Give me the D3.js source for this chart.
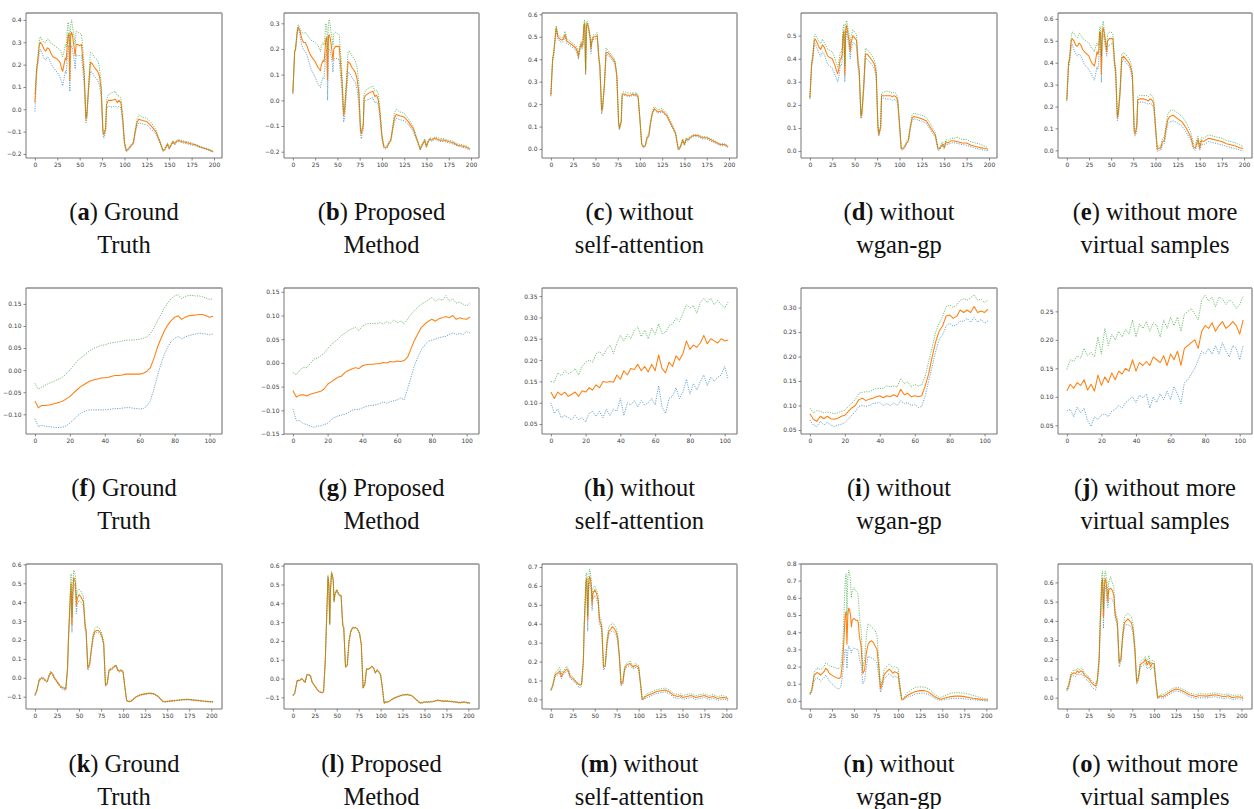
<!DOCTYPE html>
<html>
<head>
<meta charset="utf-8">
<script src="https://cdn.jsdelivr.net/npm/d3@7"></script>
<style>
  body { margin: 0; background: #fff; }
  svg { display: block; }
  .tick text { font-family: "DejaVu Sans", sans-serif; font-size: 6px; fill: #3a3a3a; }
  .tick line { stroke: #555; stroke-width: 0.7; }
  .cap { font-family: "Liberation Serif", "DejaVu Serif", serif; font-size: 24.5px; fill: #111; }
</style>
</head>
<body>
<svg id="fig" width="1254" height="809"></svg>
<script>
// ---------- sample grids ----------
const xRow1 = [0,2,3,5,6,8,10,12,14,16,18,20,25,28,30,31,32,34,35,36,37,38,39,40,41,42,44,45,46,48,50,52,54,55,57,58,60,62,64,66,70,72,74,76,77,78,79,80,82,86,90,92,94,96,98,100,102,104,106,108,110,112,114,116,120,125,130,135,140,143,145,148,150,152,154,156,158,160,165,170,175,180,185,190,195,199];
const xRow2 = [0,2,4,6,8,10,12,14,16,18,20,22,24,26,28,30,32,34,36,38,40,42,44,46,48,50,52,54,56,58,60,62,64,66,68,70,72,74,76,78,80,82,84,86,88,90,92,94,96,98,100,102];
const xRow3 = [0,2,5,8,10,12,14,16,18,20,22,25,28,30,33,35,37,38,40,41,42,43,44,45,46,47,48,50,52,54,55,56,57,58,60,62,64,66,68,70,72,74,76,78,80,82,84,86,88,90,92,94,96,98,100,102,104,106,108,110,115,120,125,130,135,140,145,148,150,155,160,165,170,175,180,185,190,195,200,202];

// ---------- (a) Ground Truth, spectra ----------
const aMean = [0.03,0.18,0.21,0.29,0.30,0.29,0.27,0.26,0.275,0.27,
  0.25,0.235,0.225,0.21,0.18,0.17,0.19,0.23,0.22,0.28,
  0.33,0.34,0.13,0.33,0.345,0.33,0.27,0.24,0.29,0.29,
  0.285,0.29,0.20,0.15,-0.045,-0.03,0.10,0.21,0.205,0.19,
  0.17,0.15,0.09,-0.10,-0.115,-0.10,-0.09,0.02,0.04,0.04,
  0.045,0.03,0.04,0.03,-0.04,-0.15,-0.185,-0.18,-0.17,-0.16,
  -0.15,-0.10,-0.06,-0.045,-0.05,-0.055,-0.075,-0.10,-0.15,-0.185,
  -0.18,-0.155,-0.175,-0.16,-0.145,-0.155,-0.145,-0.14,-0.145,-0.15,
  -0.155,-0.16,-0.17,-0.175,-0.182,-0.19];
const aUpper = [0.07,0.20,0.22,0.31,0.325,0.31,0.30,0.30,0.315,0.31,
  0.295,0.29,0.275,0.265,0.25,0.235,0.25,0.29,0.28,0.34,
  0.39,0.37,0.28,0.38,0.40,0.37,0.32,0.29,0.35,0.345,
  0.34,0.335,0.25,0.19,-0.035,-0.02,0.12,0.255,0.25,0.235,
  0.22,0.19,0.12,-0.09,-0.105,-0.09,-0.08,0.04,0.065,0.075,
  0.08,0.06,0.06,0.05,-0.02,-0.14,-0.18,-0.175,-0.165,-0.155,
  -0.145,-0.09,-0.045,-0.025,-0.035,-0.04,-0.06,-0.09,-0.145,-0.182,
  -0.175,-0.15,-0.17,-0.155,-0.14,-0.15,-0.14,-0.135,-0.14,-0.145,
  -0.15,-0.158,-0.167,-0.173,-0.18,-0.188];
const aLower = [-0.01,0.16,0.19,0.25,0.27,0.25,0.23,0.22,0.235,0.225,
  0.205,0.19,0.165,0.145,0.12,0.105,0.125,0.17,0.16,0.22,
  0.27,0.285,0.08,0.27,0.285,0.27,0.215,0.18,0.245,0.24,
  0.24,0.24,0.155,0.11,-0.06,-0.045,0.08,0.17,0.165,0.15,
  0.13,0.11,0.06,-0.115,-0.13,-0.115,-0.10,0.0,0.015,0.01,
  0.015,0.005,0.015,0.005,-0.06,-0.16,-0.19,-0.185,-0.175,-0.165,
  -0.155,-0.11,-0.075,-0.06,-0.065,-0.07,-0.09,-0.11,-0.155,-0.188,
  -0.185,-0.16,-0.18,-0.165,-0.15,-0.16,-0.15,-0.145,-0.15,-0.155,
  -0.16,-0.165,-0.172,-0.178,-0.185,-0.192];

// ---------- (b) Proposed Method ----------
const bMean = [0.03,0.19,0.20,0.27,0.285,0.27,0.24,0.225,0.225,0.21,
  0.19,0.175,0.15,0.13,0.12,0.115,0.14,0.155,0.15,0.19,
  0.24,0.245,0.08,0.25,0.255,0.24,0.19,0.155,0.20,0.21,
  0.21,0.21,0.12,0.08,-0.06,-0.045,0.05,0.15,0.145,0.13,
  0.11,0.085,0.03,-0.12,-0.13,-0.11,-0.10,0.01,0.02,0.03,
  0.035,0.015,0.02,0.0,-0.06,-0.14,-0.18,-0.185,-0.18,-0.165,
  -0.155,-0.11,-0.07,-0.055,-0.06,-0.065,-0.085,-0.11,-0.16,-0.19,
  -0.175,-0.155,-0.18,-0.16,-0.15,-0.155,-0.15,-0.148,-0.155,-0.155,
  -0.16,-0.165,-0.175,-0.178,-0.183,-0.19];
const bUpper = [0.03,0.19,0.20,0.28,0.295,0.28,0.265,0.26,0.265,0.255,
  0.245,0.235,0.225,0.215,0.20,0.19,0.215,0.225,0.215,0.25,
  0.30,0.29,0.20,0.305,0.315,0.29,0.24,0.21,0.26,0.265,
  0.26,0.255,0.17,0.12,-0.04,-0.03,0.08,0.19,0.19,0.175,
  0.155,0.13,0.07,-0.11,-0.12,-0.10,-0.09,0.025,0.04,0.05,
  0.055,0.035,0.04,0.025,-0.04,-0.13,-0.175,-0.18,-0.175,-0.16,
  -0.15,-0.10,-0.05,-0.035,-0.045,-0.05,-0.075,-0.10,-0.155,-0.188,
  -0.17,-0.15,-0.175,-0.155,-0.145,-0.15,-0.145,-0.142,-0.148,-0.15,
  -0.155,-0.16,-0.17,-0.173,-0.178,-0.186];
const bLower = [0.025,0.185,0.195,0.265,0.28,0.255,0.215,0.195,0.19,0.175,
  0.15,0.125,0.09,0.065,0.055,0.05,0.07,0.09,0.085,0.13,
  0.18,0.20,0.0,0.20,0.20,0.19,0.15,0.11,0.16,0.165,
  0.16,0.16,0.08,0.04,-0.085,-0.07,0.02,0.11,0.105,0.09,
  0.07,0.045,-0.01,-0.135,-0.15,-0.125,-0.115,-0.005,0.0,0.005,
  0.01,-0.01,-0.005,-0.02,-0.08,-0.15,-0.185,-0.19,-0.185,-0.17,
  -0.16,-0.12,-0.085,-0.07,-0.075,-0.08,-0.095,-0.12,-0.165,-0.195,
  -0.18,-0.16,-0.185,-0.165,-0.155,-0.16,-0.155,-0.153,-0.16,-0.16,
  -0.165,-0.17,-0.178,-0.182,-0.187,-0.195];

// ---------- (c) without self-attention ----------
const cMean = [0.24,0.40,0.42,0.50,0.54,0.50,0.49,0.485,0.49,0.51,
  0.48,0.475,0.46,0.45,0.43,0.41,0.44,0.47,0.455,0.47,
  0.55,0.56,0.34,0.55,0.56,0.545,0.50,0.445,0.48,0.50,
  0.50,0.505,0.40,0.37,0.17,0.18,0.28,0.43,0.43,0.42,
  0.40,0.385,0.33,0.12,0.09,0.11,0.12,0.24,0.245,0.24,
  0.24,0.245,0.24,0.245,0.23,0.13,0.02,0.01,0.015,0.05,
  0.06,0.12,0.16,0.18,0.165,0.17,0.15,0.11,0.07,0.0,
  0.005,0.04,0.02,0.045,0.04,0.05,0.055,0.06,0.06,0.05,
  0.05,0.04,0.03,0.02,0.02,0.01];
const cUpper = [0.245,0.41,0.43,0.51,0.55,0.51,0.50,0.495,0.50,0.525,
  0.49,0.485,0.47,0.46,0.445,0.42,0.455,0.48,0.465,0.48,
  0.56,0.575,0.35,0.565,0.57,0.555,0.51,0.455,0.49,0.51,
  0.51,0.52,0.41,0.38,0.175,0.19,0.29,0.45,0.44,0.43,
  0.41,0.395,0.34,0.125,0.095,0.115,0.125,0.25,0.255,0.25,
  0.25,0.25,0.25,0.25,0.24,0.135,0.025,0.015,0.02,0.06,
  0.07,0.13,0.17,0.19,0.175,0.18,0.16,0.12,0.075,0.005,
  0.01,0.045,0.025,0.05,0.045,0.055,0.06,0.065,0.065,0.055,
  0.055,0.045,0.035,0.025,0.025,0.012];
const cLower = [0.235,0.39,0.41,0.49,0.53,0.49,0.48,0.475,0.48,0.50,
  0.47,0.465,0.45,0.44,0.42,0.40,0.43,0.46,0.445,0.46,
  0.54,0.55,0.33,0.54,0.55,0.535,0.49,0.425,0.47,0.49,
  0.49,0.495,0.39,0.355,0.155,0.17,0.27,0.42,0.42,0.41,
  0.39,0.375,0.32,0.11,0.085,0.105,0.115,0.235,0.24,0.235,
  0.235,0.24,0.235,0.24,0.225,0.125,0.015,0.005,0.01,0.045,
  0.055,0.115,0.155,0.175,0.16,0.165,0.145,0.105,0.065,-0.005,
  0.0,0.035,0.015,0.04,0.035,0.045,0.05,0.055,0.055,0.045,
  0.045,0.035,0.025,0.015,0.015,0.008];

// ---------- (d) without wgan-gp ----------
const dMean = [0.23,0.38,0.40,0.48,0.485,0.47,0.45,0.44,0.46,0.45,
  0.43,0.41,0.40,0.37,0.345,0.335,0.35,0.40,0.40,0.42,
  0.50,0.52,0.33,0.52,0.545,0.52,0.47,0.43,0.47,0.50,
  0.49,0.48,0.37,0.35,0.15,0.16,0.27,0.42,0.42,0.41,
  0.39,0.375,0.34,0.10,0.07,0.09,0.10,0.24,0.24,0.24,
  0.24,0.235,0.24,0.235,0.22,0.12,0.01,0.01,0.02,0.035,
  0.045,0.10,0.14,0.15,0.145,0.14,0.13,0.10,0.07,0.01,
  0.01,0.03,0.015,0.04,0.035,0.04,0.045,0.045,0.04,0.035,
  0.035,0.025,0.02,0.015,0.012,0.008];
const dUpper = [0.235,0.39,0.41,0.50,0.505,0.49,0.475,0.465,0.485,0.47,
  0.455,0.44,0.43,0.40,0.375,0.365,0.38,0.43,0.43,0.45,
  0.53,0.55,0.37,0.55,0.565,0.545,0.50,0.46,0.50,0.525,
  0.515,0.505,0.39,0.37,0.16,0.175,0.29,0.445,0.44,0.43,
  0.41,0.395,0.36,0.12,0.08,0.10,0.11,0.25,0.255,0.26,
  0.255,0.25,0.255,0.25,0.235,0.13,0.015,0.015,0.025,0.045,
  0.055,0.11,0.155,0.165,0.16,0.155,0.145,0.115,0.08,0.015,
  0.015,0.04,0.02,0.05,0.045,0.05,0.055,0.055,0.06,0.05,
  0.05,0.04,0.035,0.03,0.022,0.015];
const dLower = [0.225,0.37,0.385,0.46,0.465,0.445,0.425,0.41,0.43,0.42,
  0.395,0.375,0.36,0.33,0.31,0.30,0.315,0.37,0.37,0.39,
  0.47,0.50,0.30,0.49,0.52,0.495,0.44,0.40,0.44,0.47,
  0.465,0.455,0.35,0.33,0.14,0.15,0.255,0.40,0.40,0.39,
  0.37,0.355,0.32,0.09,0.065,0.08,0.09,0.225,0.23,0.225,
  0.225,0.22,0.225,0.22,0.205,0.11,0.005,0.005,0.015,0.03,
  0.04,0.09,0.13,0.14,0.135,0.13,0.12,0.09,0.06,0.003,
  0.005,0.025,0.01,0.03,0.028,0.032,0.035,0.037,0.033,0.028,
  0.025,0.018,0.012,0.008,0.004,0.002];

// ---------- (e) without more virtual samples ----------
const eMean = [0.23,0.40,0.41,0.50,0.51,0.50,0.48,0.475,0.49,0.48,
  0.46,0.45,0.43,0.40,0.39,0.385,0.40,0.45,0.44,0.45,
  0.54,0.54,0.35,0.53,0.56,0.54,0.48,0.45,0.50,0.51,
  0.51,0.51,0.39,0.37,0.15,0.165,0.26,0.42,0.43,0.42,
  0.40,0.38,0.34,0.09,0.075,0.09,0.11,0.23,0.235,0.235,
  0.23,0.225,0.235,0.23,0.215,0.11,0.005,0.01,0.01,0.04,
  0.045,0.10,0.14,0.155,0.16,0.145,0.13,0.10,0.06,0.015,
  0.01,0.05,0.01,0.045,0.04,0.045,0.05,0.055,0.05,0.045,
  0.04,0.03,0.025,0.02,0.012,0.008];
const eUpper = [0.235,0.41,0.425,0.52,0.54,0.535,0.52,0.515,0.535,0.525,
  0.51,0.505,0.49,0.465,0.46,0.45,0.465,0.49,0.48,0.48,
  0.56,0.565,0.43,0.565,0.59,0.56,0.50,0.47,0.53,0.54,
  0.54,0.53,0.41,0.39,0.16,0.18,0.28,0.44,0.445,0.44,
  0.42,0.40,0.36,0.11,0.09,0.10,0.12,0.245,0.25,0.25,
  0.25,0.245,0.255,0.25,0.235,0.13,0.015,0.02,0.02,0.055,
  0.06,0.12,0.165,0.18,0.185,0.17,0.155,0.125,0.08,0.03,
  0.025,0.065,0.025,0.06,0.055,0.06,0.065,0.07,0.065,0.06,
  0.055,0.045,0.04,0.035,0.025,0.018];
const eLower = [0.225,0.38,0.395,0.47,0.485,0.46,0.44,0.43,0.44,0.43,
  0.41,0.39,0.37,0.345,0.33,0.32,0.335,0.38,0.37,0.40,
  0.51,0.52,0.31,0.51,0.53,0.51,0.46,0.43,0.47,0.48,
  0.485,0.49,0.37,0.35,0.135,0.15,0.245,0.40,0.415,0.405,
  0.385,0.365,0.32,0.08,0.065,0.075,0.095,0.215,0.22,0.22,
  0.215,0.21,0.215,0.21,0.195,0.095,-0.005,0.0,0.0,0.025,
  0.03,0.08,0.12,0.13,0.135,0.125,0.11,0.08,0.045,0.005,
  0.0,0.035,0.0,0.03,0.025,0.03,0.035,0.04,0.035,0.03,
  0.025,0.018,0.012,0.008,0.002,-0.003];

// ---------- (f) Ground Truth, second dataset ----------
const fMean = [-0.07,-0.085,-0.08,-0.08,-0.079,-0.077,-0.075,-0.073,-0.07,-0.065,
  -0.06,-0.052,-0.045,-0.038,-0.033,-0.028,-0.024,-0.022,-0.02,-0.018,
  -0.017,-0.016,-0.014,-0.012,-0.012,-0.011,-0.009,-0.009,-0.009,-0.009,
  -0.009,-0.007,-0.003,0.005,0.025,0.05,0.07,0.088,0.102,0.112,
  0.12,0.123,0.115,0.12,0.123,0.124,0.125,0.126,0.126,0.123,
  0.12,0.122];
const fUpper = [-0.03,-0.043,-0.038,-0.034,-0.03,-0.027,-0.023,-0.02,-0.015,-0.008,
  0.0,0.01,0.02,0.027,0.033,0.04,0.045,0.05,0.053,0.056,
  0.057,0.06,0.062,0.063,0.064,0.066,0.068,0.068,0.068,0.069,
  0.07,0.072,0.075,0.082,0.095,0.11,0.125,0.14,0.152,0.162,
  0.168,0.171,0.162,0.167,0.169,0.169,0.168,0.168,0.166,0.163,
  0.16,0.162];
const fLower = [-0.11,-0.128,-0.125,-0.127,-0.128,-0.129,-0.13,-0.13,-0.129,-0.126,
  -0.12,-0.113,-0.105,-0.098,-0.094,-0.091,-0.09,-0.09,-0.09,-0.09,
  -0.09,-0.089,-0.088,-0.087,-0.087,-0.086,-0.085,-0.085,-0.086,-0.087,
  -0.088,-0.087,-0.082,-0.07,-0.045,-0.015,0.012,0.035,0.052,0.065,
  0.072,0.076,0.071,0.075,0.078,0.08,0.082,0.084,0.083,0.082,
  0.08,0.082];

// ---------- (g) Proposed Method ----------
const gMean = [-0.058,-0.072,-0.068,-0.067,-0.07,-0.066,-0.064,-0.062,-0.06,-0.055,
  -0.045,-0.04,-0.035,-0.03,-0.028,-0.02,-0.016,-0.013,-0.01,-0.012,
  -0.006,-0.004,-0.003,-0.003,-0.002,-0.002,0.001,0.0,0.003,0.002,
  0.004,0.003,0.005,0.012,0.03,0.048,0.062,0.075,0.082,0.088,
  0.092,0.088,0.093,0.095,0.098,0.095,0.1,0.092,0.095,0.093,
  0.092,0.097];
const gUpper = [-0.02,-0.025,-0.015,-0.01,-0.01,-0.002,0.008,0.01,0.015,0.02,
  0.03,0.038,0.045,0.05,0.058,0.063,0.068,0.072,0.075,0.068,
  0.078,0.082,0.083,0.083,0.083,0.085,0.082,0.087,0.083,0.09,
  0.085,0.088,0.083,0.092,0.103,0.11,0.118,0.124,0.128,0.133,
  0.138,0.13,0.135,0.132,0.142,0.13,0.135,0.126,0.128,0.124,
  0.12,0.127];
const gLower = [-0.097,-0.122,-0.122,-0.128,-0.13,-0.133,-0.136,-0.133,-0.133,-0.13,
  -0.128,-0.12,-0.115,-0.112,-0.11,-0.108,-0.105,-0.1,-0.098,-0.098,
  -0.095,-0.092,-0.09,-0.09,-0.088,-0.086,-0.082,-0.085,-0.082,-0.08,
  -0.078,-0.074,-0.078,-0.055,-0.03,-0.005,0.013,0.028,0.038,0.046,
  0.048,0.05,0.053,0.055,0.056,0.06,0.063,0.06,0.062,0.06,
  0.066,0.063];

// ---------- (h) without self-attention ----------
const hMean = [0.125,0.11,0.125,0.118,0.125,0.115,0.12,0.125,0.115,0.128,
  0.125,0.135,0.13,0.142,0.135,0.15,0.148,0.15,0.148,0.165,
  0.155,0.175,0.165,0.18,0.178,0.19,0.175,0.185,0.172,0.19,
  0.175,0.212,0.18,0.17,0.195,0.185,0.21,0.2,0.215,0.245,
  0.225,0.235,0.23,0.24,0.258,0.238,0.25,0.245,0.24,0.25,
  0.245,0.247];
const hUpper = [0.15,0.148,0.17,0.163,0.175,0.168,0.172,0.18,0.165,0.185,
  0.195,0.2,0.195,0.215,0.22,0.21,0.225,0.235,0.215,0.24,
  0.258,0.245,0.26,0.25,0.27,0.278,0.255,0.27,0.25,0.275,
  0.26,0.285,0.262,0.265,0.28,0.285,0.298,0.29,0.31,0.33,
  0.322,0.328,0.31,0.335,0.345,0.335,0.345,0.33,0.34,0.33,
  0.322,0.336];
const hLower = [0.10,0.075,0.085,0.065,0.07,0.065,0.06,0.07,0.06,0.065,
  0.055,0.075,0.08,0.068,0.08,0.065,0.085,0.07,0.085,0.08,
  0.11,0.07,0.1,0.095,0.105,0.09,0.105,0.095,0.1,0.11,
  0.095,0.14,0.09,0.075,0.11,0.115,0.135,0.11,0.125,0.155,
  0.12,0.145,0.13,0.15,0.165,0.14,0.16,0.15,0.16,0.165,
  0.185,0.155];

// ---------- (i) without wgan-gp ----------
const iMean = [0.083,0.072,0.068,0.078,0.073,0.078,0.073,0.072,0.074,0.078,
  0.08,0.088,0.095,0.1,0.112,0.115,0.11,0.113,0.115,0.118,
  0.12,0.116,0.12,0.118,0.122,0.118,0.133,0.122,0.125,0.118,
  0.12,0.118,0.12,0.14,0.165,0.2,0.23,0.252,0.263,0.283,
  0.285,0.278,0.282,0.295,0.29,0.295,0.29,0.302,0.29,0.293,
  0.29,0.297];
const iUpper = [0.095,0.085,0.09,0.088,0.085,0.087,0.085,0.083,0.085,0.088,
  0.09,0.098,0.105,0.112,0.125,0.127,0.128,0.128,0.132,0.135,
  0.135,0.135,0.14,0.138,0.14,0.138,0.155,0.145,0.148,0.138,
  0.143,0.14,0.142,0.16,0.19,0.22,0.25,0.268,0.282,0.302,
  0.305,0.3,0.305,0.315,0.318,0.315,0.32,0.326,0.315,0.317,
  0.31,0.316];
const iLower = [0.07,0.06,0.057,0.068,0.06,0.066,0.06,0.057,0.06,0.062,
  0.065,0.072,0.08,0.088,0.098,0.1,0.098,0.1,0.104,0.105,
  0.106,0.1,0.104,0.1,0.105,0.1,0.11,0.104,0.106,0.1,
  0.102,0.096,0.098,0.12,0.15,0.18,0.21,0.235,0.245,0.262,
  0.268,0.262,0.265,0.272,0.272,0.278,0.27,0.28,0.27,0.276,
  0.268,0.273];

// ---------- (j) without more virtual samples ----------
const jMean = [0.11,0.122,0.115,0.125,0.12,0.13,0.112,0.122,0.11,0.138,
  0.12,0.135,0.125,0.142,0.13,0.145,0.14,0.15,0.145,0.165,
  0.145,0.16,0.155,0.162,0.155,0.17,0.165,0.16,0.172,0.155,
  0.175,0.165,0.18,0.155,0.185,0.19,0.195,0.2,0.185,0.215,
  0.225,0.22,0.23,0.215,0.225,0.232,0.22,0.225,0.232,0.225,
  0.21,0.235];
const jUpper = [0.148,0.165,0.162,0.172,0.168,0.185,0.172,0.178,0.17,0.205,
  0.175,0.22,0.19,0.21,0.2,0.215,0.205,0.218,0.21,0.235,
  0.205,0.228,0.22,0.232,0.215,0.23,0.225,0.205,0.235,0.22,
  0.24,0.225,0.24,0.215,0.245,0.25,0.255,0.245,0.235,0.27,
  0.278,0.268,0.275,0.258,0.275,0.272,0.262,0.27,0.265,0.255,
  0.262,0.277];
const jLower = [0.075,0.078,0.065,0.082,0.072,0.08,0.058,0.048,0.065,0.06,
  0.068,0.07,0.065,0.075,0.078,0.085,0.08,0.09,0.095,0.1,
  0.09,0.103,0.098,0.105,0.08,0.1,0.09,0.105,0.095,0.11,
  0.095,0.118,0.105,0.088,0.125,0.13,0.14,0.15,0.165,0.18,
  0.175,0.185,0.175,0.19,0.175,0.195,0.18,0.17,0.19,0.185,
  0.165,0.19];

// ---------- (k) Ground Truth, third dataset ----------
const kMean = [-0.09,-0.07,-0.01,0.0,-0.005,-0.015,-0.02,0.01,0.03,0.02,
  0.0,-0.02,-0.04,-0.05,-0.055,-0.06,0.05,0.2,0.42,0.5,
  0.28,0.45,0.53,0.52,0.5,0.38,0.42,0.44,0.43,0.41,
  0.40,0.34,0.27,0.25,0.05,0.07,0.15,0.22,0.245,0.25,
  0.25,0.24,0.22,0.18,-0.04,-0.03,0.04,0.045,0.05,0.06,
  0.065,0.04,0.035,0.04,0.03,-0.05,-0.12,-0.125,-0.125,-0.12,
  -0.1,-0.09,-0.085,-0.082,-0.085,-0.1,-0.125,-0.127,-0.125,-0.122,
  -0.12,-0.117,-0.115,-0.115,-0.118,-0.12,-0.123,-0.125,-0.127,-0.127];
const kUpper = [-0.09,-0.07,-0.005,0.005,0.0,-0.01,-0.015,0.015,0.035,0.025,
  0.005,-0.015,-0.035,-0.045,-0.05,-0.055,0.06,0.22,0.45,0.55,
  0.32,0.5,0.57,0.56,0.54,0.42,0.46,0.47,0.46,0.44,
  0.43,0.36,0.29,0.26,0.06,0.08,0.16,0.235,0.26,0.27,
  0.268,0.255,0.235,0.19,-0.035,-0.025,0.045,0.05,0.055,0.065,
  0.068,0.045,0.04,0.045,0.035,-0.045,-0.118,-0.123,-0.123,-0.118,
  -0.098,-0.088,-0.083,-0.08,-0.083,-0.098,-0.123,-0.125,-0.123,-0.12,
  -0.118,-0.115,-0.113,-0.113,-0.116,-0.118,-0.121,-0.123,-0.125,-0.125];
const kLower = [-0.095,-0.075,-0.015,-0.005,-0.01,-0.02,-0.025,0.005,0.025,0.015,
  -0.005,-0.025,-0.045,-0.058,-0.065,-0.065,0.04,0.18,0.38,0.45,
  0.24,0.42,0.50,0.49,0.46,0.34,0.39,0.41,0.40,0.39,
  0.38,0.32,0.25,0.24,0.04,0.06,0.14,0.205,0.235,0.24,
  0.238,0.23,0.21,0.17,-0.045,-0.035,0.035,0.04,0.045,0.055,
  0.062,0.035,0.03,0.035,0.025,-0.055,-0.122,-0.127,-0.127,-0.122,
  -0.102,-0.092,-0.087,-0.084,-0.087,-0.102,-0.127,-0.129,-0.127,-0.124,
  -0.122,-0.119,-0.117,-0.117,-0.12,-0.122,-0.125,-0.127,-0.129,-0.129];

// ---------- (l) Proposed Method ----------
const lMean = [-0.09,-0.08,-0.01,-0.01,0.0,-0.01,-0.02,0.02,0.02,0.015,
  -0.02,-0.04,-0.06,-0.07,-0.075,-0.07,0.1,0.25,0.54,0.50,
  0.29,0.48,0.56,0.55,0.52,0.41,0.45,0.47,0.45,0.44,
  0.44,0.35,0.28,0.27,0.06,0.07,0.2,0.25,0.27,0.27,
  0.27,0.26,0.24,0.18,-0.05,-0.03,0.05,0.05,0.055,0.065,
  0.055,0.03,0.045,0.035,0.02,-0.05,-0.13,-0.125,-0.125,-0.12,
  -0.105,-0.095,-0.088,-0.085,-0.09,-0.11,-0.13,-0.128,-0.125,-0.125,
  -0.122,-0.115,-0.12,-0.12,-0.122,-0.125,-0.128,-0.125,-0.13,-0.13];
const lUpper = [-0.088,-0.078,-0.008,-0.008,0.002,-0.008,-0.018,0.022,0.022,0.017,
  -0.018,-0.038,-0.058,-0.068,-0.073,-0.068,0.105,0.26,0.55,0.51,
  0.295,0.485,0.57,0.555,0.525,0.415,0.455,0.475,0.455,0.445,
  0.445,0.355,0.285,0.275,0.062,0.072,0.205,0.255,0.273,0.273,
  0.272,0.263,0.243,0.183,-0.048,-0.028,0.052,0.052,0.057,0.067,
  0.057,0.032,0.047,0.037,0.022,-0.048,-0.128,-0.123,-0.123,-0.118,
  -0.103,-0.093,-0.086,-0.083,-0.088,-0.108,-0.128,-0.126,-0.123,-0.123,
  -0.12,-0.113,-0.118,-0.118,-0.12,-0.123,-0.126,-0.123,-0.128,-0.128];
const lLower = [-0.092,-0.082,-0.012,-0.012,-0.002,-0.012,-0.022,0.018,0.018,0.013,
  -0.022,-0.042,-0.062,-0.072,-0.077,-0.072,0.095,0.24,0.53,0.49,
  0.285,0.475,0.555,0.545,0.515,0.405,0.445,0.465,0.445,0.435,
  0.435,0.345,0.275,0.265,0.058,0.068,0.195,0.245,0.267,0.267,
  0.268,0.257,0.237,0.177,-0.052,-0.032,0.048,0.048,0.053,0.063,
  0.053,0.028,0.043,0.033,0.018,-0.052,-0.132,-0.127,-0.127,-0.122,
  -0.107,-0.097,-0.09,-0.087,-0.092,-0.112,-0.132,-0.13,-0.127,-0.127,
  -0.124,-0.117,-0.122,-0.122,-0.124,-0.127,-0.13,-0.127,-0.132,-0.132];

// ---------- (m) without self-attention ----------
const mMean = [0.05,0.07,0.13,0.14,0.15,0.12,0.14,0.15,0.16,0.15,
  0.12,0.11,0.095,0.085,0.075,0.08,0.2,0.38,0.62,0.64,
  0.42,0.60,0.65,0.64,0.60,0.50,0.56,0.58,0.56,0.52,
  0.44,0.41,0.40,0.38,0.17,0.18,0.30,0.36,0.37,0.385,
  0.375,0.36,0.33,0.23,0.08,0.09,0.16,0.18,0.185,0.19,
  0.18,0.17,0.18,0.175,0.17,0.09,0.0,0.005,0.015,0.02,
  0.03,0.04,0.045,0.05,0.04,0.02,0.015,0.02,0.01,0.015,
  0.02,0.01,0.015,0.02,0.01,0.015,0.005,0.01,0.008,0.0];
const mUpper = [0.052,0.075,0.14,0.155,0.17,0.135,0.15,0.16,0.175,0.16,
  0.13,0.12,0.1,0.09,0.08,0.085,0.22,0.42,0.66,0.67,
  0.44,0.63,0.69,0.67,0.63,0.53,0.59,0.60,0.58,0.55,
  0.46,0.43,0.42,0.40,0.18,0.19,0.32,0.385,0.39,0.405,
  0.395,0.38,0.35,0.245,0.09,0.1,0.175,0.19,0.195,0.205,
  0.19,0.18,0.19,0.185,0.18,0.1,0.005,0.01,0.025,0.03,
  0.04,0.05,0.055,0.06,0.05,0.03,0.025,0.03,0.02,0.025,
  0.03,0.02,0.025,0.03,0.02,0.025,0.015,0.02,0.015,0.008];
const mLower = [0.045,0.065,0.12,0.13,0.14,0.11,0.13,0.14,0.15,0.14,
  0.11,0.1,0.085,0.075,0.06,0.07,0.18,0.36,0.58,0.60,
  0.36,0.57,0.62,0.61,0.57,0.47,0.53,0.55,0.53,0.50,
  0.42,0.39,0.38,0.36,0.155,0.17,0.28,0.34,0.355,0.365,
  0.355,0.345,0.31,0.215,0.07,0.08,0.15,0.17,0.175,0.18,
  0.17,0.16,0.17,0.165,0.16,0.08,-0.005,0.0,0.005,0.01,
  0.02,0.03,0.035,0.04,0.03,0.01,0.005,0.01,0.0,0.005,
  0.01,0.0,0.005,0.01,0.0,0.005,-0.005,0.0,0.0,-0.008];

// ---------- (n) without wgan-gp ----------
const nMean = [0.04,0.06,0.15,0.165,0.16,0.15,0.16,0.17,0.19,0.18,
  0.16,0.15,0.14,0.135,0.13,0.14,0.22,0.3,0.5,0.52,
  0.33,0.5,0.54,0.53,0.5,0.43,0.47,0.48,0.47,0.47,
  0.45,0.38,0.35,0.32,0.16,0.18,0.28,0.33,0.345,0.35,
  0.34,0.32,0.3,0.2,0.07,0.1,0.15,0.165,0.175,0.185,
  0.175,0.16,0.17,0.165,0.16,0.08,0.01,0.01,0.02,0.03,
  0.045,0.055,0.06,0.06,0.05,0.03,0.015,0.01,0.012,0.02,
  0.025,0.028,0.028,0.025,0.02,0.015,0.012,0.008,0.005,0.005];
const nUpper = [0.045,0.07,0.17,0.19,0.19,0.18,0.19,0.2,0.22,0.215,
  0.205,0.2,0.195,0.19,0.19,0.2,0.3,0.42,0.7,0.74,
  0.5,0.72,0.76,0.74,0.7,0.6,0.64,0.66,0.64,0.63,
  0.6,0.5,0.45,0.42,0.2,0.24,0.38,0.45,0.44,0.43,
  0.42,0.41,0.38,0.25,0.09,0.12,0.18,0.195,0.205,0.215,
  0.205,0.19,0.2,0.195,0.19,0.1,0.015,0.015,0.03,0.045,
  0.065,0.08,0.082,0.08,0.07,0.045,0.025,0.02,0.025,0.035,
  0.045,0.048,0.048,0.045,0.04,0.032,0.025,0.018,0.012,0.01];
const nLower = [0.035,0.05,0.12,0.135,0.13,0.115,0.125,0.135,0.15,0.135,
  0.115,0.1,0.085,0.075,0.07,0.08,0.15,0.2,0.3,0.3,
  0.19,0.29,0.32,0.31,0.3,0.28,0.3,0.31,0.3,0.3,
  0.29,0.25,0.23,0.21,0.1,0.12,0.2,0.26,0.255,0.25,
  0.245,0.235,0.22,0.15,0.05,0.08,0.125,0.14,0.15,0.16,
  0.15,0.135,0.145,0.14,0.135,0.065,0.005,0.005,0.015,0.02,
  0.03,0.04,0.045,0.045,0.035,0.02,0.008,0.005,0.005,0.01,
  0.013,0.015,0.015,0.012,0.01,0.007,0.004,0.002,0.0,0.0];

// ---------- (o) without more virtual samples ----------
const oMean = [0.04,0.06,0.12,0.13,0.125,0.14,0.13,0.14,0.135,0.12,
  0.11,0.1,0.08,0.07,0.06,0.09,0.2,0.35,0.6,0.62,
  0.42,0.58,0.62,0.6,0.55,0.5,0.56,0.57,0.56,0.53,
  0.45,0.42,0.41,0.38,0.18,0.2,0.32,0.39,0.4,0.41,
  0.4,0.39,0.35,0.25,0.08,0.1,0.17,0.18,0.185,0.2,
  0.17,0.19,0.16,0.18,0.175,0.08,0.0,0.005,0.01,0.005,
  0.02,0.035,0.045,0.04,0.03,0.015,0.01,0.005,0.01,0.01,
  0.008,0.012,0.015,0.01,0.005,0.01,0.0,0.005,0.002,-0.005];
const oUpper = [0.045,0.07,0.13,0.145,0.14,0.155,0.145,0.155,0.15,0.13,
  0.12,0.11,0.09,0.08,0.075,0.1,0.22,0.4,0.64,0.66,
  0.46,0.62,0.66,0.64,0.6,0.54,0.6,0.63,0.6,0.57,
  0.47,0.44,0.43,0.4,0.19,0.215,0.34,0.42,0.43,0.44,
  0.43,0.42,0.38,0.27,0.09,0.11,0.185,0.195,0.2,0.215,
  0.185,0.22,0.175,0.195,0.19,0.09,0.005,0.01,0.02,0.015,
  0.03,0.045,0.055,0.05,0.04,0.025,0.02,0.015,0.02,0.02,
  0.018,0.022,0.025,0.02,0.015,0.02,0.01,0.015,0.012,0.005];
const oLower = [0.035,0.05,0.11,0.115,0.11,0.125,0.115,0.125,0.12,0.105,
  0.095,0.085,0.06,0.05,0.04,0.075,0.18,0.3,0.55,0.57,
  0.36,0.53,0.58,0.56,0.5,0.47,0.51,0.52,0.51,0.49,
  0.43,0.4,0.39,0.36,0.16,0.185,0.3,0.37,0.38,0.38,
  0.375,0.365,0.33,0.23,0.07,0.09,0.155,0.165,0.17,0.18,
  0.15,0.16,0.145,0.16,0.155,0.07,-0.005,0.0,0.0,-0.005,
  0.01,0.025,0.035,0.03,0.02,0.005,0.0,-0.005,0.0,0.0,
  -0.002,0.002,0.005,0.0,-0.005,0.0,-0.01,-0.005,-0.008,-0.015];

// ---------- tick labels ----------
const xTicksRow1 = [0,25,50,75,100,125,150,175,200];
const xTicksRow2 = [0,20,40,60,80,100];
const xTicksRow3 = [0,25,50,75,100,125,150,175,200];
const yTicksA = [-0.2,-0.1,0.0,0.1,0.2,0.3,0.4];
const yTicksB = [-0.2,-0.1,0.0,0.1,0.2,0.3];
const yTicksC = [0.0,0.1,0.2,0.3,0.4,0.5,0.6];
const yTicksD = [0.0,0.1,0.2,0.3,0.4,0.5];
const yTicksE = [0.0,0.1,0.2,0.3,0.4,0.5,0.6];
const yTicksF = [-0.10,-0.05,0.00,0.05,0.10,0.15];
const yTicksG = [-0.15,-0.10,-0.05,0.00,0.05,0.10,0.15];
const yTicksH = [0.05,0.10,0.15,0.20,0.25,0.30,0.35];
const yTicksI = [0.05,0.10,0.15,0.20,0.25,0.30];
const yTicksJ = [0.05,0.10,0.15,0.20,0.25];
const yTicksK = [-0.1,0.0,0.1,0.2,0.3,0.4,0.5,0.6];
const yTicksL = [-0.1,0.0,0.1,0.2,0.3,0.4,0.5,0.6];
const yTicksM = [0.0,0.1,0.2,0.3,0.4,0.5,0.6,0.7];
const yTicksN = [0.0,0.1,0.2,0.3,0.4,0.5,0.6,0.7,0.8];
const yTicksO = [0.0,0.1,0.2,0.3,0.4,0.5,0.6];

// ---------- captions ----------
const captionLetters = ['a','b','c','d','e','f','g','h','i','j','k','l','m','n','o'];
const captionLines = [
  ['Ground','Truth'],
  ['Proposed','Method'],
  ['without','self-attention'],
  ['without','wgan-gp'],
  ['without more','virtual samples']
];

// ---------- panel setup ----------
const seriesByPanel = [
  [aLower,aMean,aUpper],[bLower,bMean,bUpper],[cLower,cMean,cUpper],[dLower,dMean,dUpper],[eLower,eMean,eUpper],
  [fLower,fMean,fUpper],[gLower,gMean,gUpper],[hLower,hMean,hUpper],[iLower,iMean,iUpper],[jLower,jMean,jUpper],
  [kLower,kMean,kUpper],[lLower,lMean,lUpper],[mLower,mMean,mUpper],[nLower,nMean,nUpper],[oLower,oMean,oUpper]
];
const yTicksByPanel = [yTicksA,yTicksB,yTicksC,yTicksD,yTicksE,yTicksF,yTicksG,yTicksH,yTicksI,yTicksJ,yTicksK,yTicksL,yTicksM,yTicksN,yTicksO];
const yDomains = [
  [-0.218,0.431],[-0.2245,0.340],[-0.040,0.606],[-0.030,0.598],[-0.035,0.627],
  [-0.1446,0.186],[-0.150,0.158],[0.0267,0.369],[0.0418,0.340],[0.0347,0.291],
  [-0.165,0.602],[-0.162,0.609],[-0.051,0.716],[-0.047,0.797],[-0.059,0.696]
];
const rows = [
  {x: xRow1, xTicks: xTicksRow1, xDomain: [-9.95, 208.95], top: 13, bottom: 158, fmt: '.1f', cap: [220, 253]},
  {x: xRow2, xTicks: xTicksRow2, xDomain: [-5.1, 107.1], top: 288, bottom: 434, fmt: '.2f', cap: [496, 529]},
  {x: xRow3, xTicks: xTicksRow3, xDomain: [-10.1, 212.1], top: 564, bottom: 709, fmt: '.1f', cap: [772, 805]}
];
const cols = [[26,222],[284,479],[542,737],[801,997],[1058,1252]];

const colors = {lower: '#1f77b4', mean: '#ff7f0e', upper: '#2ca02c'};

const svg = d3.select('#fig');

seriesByPanel.forEach((series, idx) => {
  const r = rows[Math.floor(idx / 5)];
  const c = idx % 5;
  const [left, right] = cols[c];
  const x = d3.scaleLinear().domain(r.xDomain).range([left, right]);
  const y = d3.scaleLinear().domain(yDomains[idx]).range([r.bottom, r.top]);
  const g = svg.append('g');

  const clipId = 'clip' + idx;
  g.append('clipPath').attr('id', clipId)
    .append('rect').attr('x', left).attr('y', r.top)
    .attr('width', right - left).attr('height', r.bottom - r.top);

  const line = d3.line().x((d, i) => x(r.x[i])).y(d => y(d));
  const plot = g.append('g').attr('clip-path', `url(#${clipId})`);

  const [lower, mean, upper] = series;
  plot.append('path').datum(lower).attr('d', line)
    .attr('fill', 'none').attr('stroke', colors.lower).attr('stroke-width', 1.0)
    .attr('stroke-dasharray', '1.1 1.3').attr('opacity', 0.7);
  plot.append('path').datum(mean).attr('d', line)
    .attr('fill', 'none').attr('stroke', colors.mean).attr('stroke-width', 1.05)
    .attr('stroke-linejoin', 'round');
  plot.append('path').datum(upper).attr('d', line)
    .attr('fill', 'none').attr('stroke', colors.upper).attr('stroke-width', 1.0)
    .attr('stroke-dasharray', '1.1 1.3').attr('opacity', 0.7);

  // axes
  const fmt = d3.format(r.fmt);
  const yAxis = g.append('g').attr('transform', `translate(${left},0)`)
    .call(d3.axisLeft(y).tickValues(yTicksByPanel[idx]).tickFormat(fmt).tickSize(2.5).tickPadding(2));
  yAxis.select('.domain').remove();
  const xAxis = g.append('g').attr('transform', `translate(0,${r.bottom})`)
    .call(d3.axisBottom(x).tickValues(r.xTicks).tickFormat(d3.format('d')).tickSize(2.5).tickPadding(2));
  xAxis.select('.domain').remove();

  // frame: light heavy top/right, thin dark left/bottom
  g.append('line').attr('x1', left).attr('x2', right).attr('y1', r.top).attr('y2', r.top)
    .attr('stroke', '#aaa').attr('stroke-width', 1.8);
  g.append('line').attr('x1', right).attr('x2', right).attr('y1', r.top).attr('y2', r.bottom)
    .attr('stroke', '#aaa').attr('stroke-width', 1.8);
  g.append('line').attr('x1', left).attr('x2', left).attr('y1', r.top).attr('y2', r.bottom)
    .attr('stroke', '#666').attr('stroke-width', 0.9);
  g.append('line').attr('x1', left).attr('x2', right).attr('y1', r.bottom).attr('y2', r.bottom)
    .attr('stroke', '#666').attr('stroke-width', 0.9);

  // caption
  const cx = (left + right) / 2;
  const lines = captionLines[c];
  const t1 = svg.append('text').attr('class', 'cap').attr('x', cx).attr('y', r.cap[0]).attr('text-anchor', 'middle');
  t1.append('tspan').text('(');
  t1.append('tspan').attr('font-weight', 'bold').text(captionLetters[idx]);
  t1.append('tspan').text(') ' + lines[0]);
  svg.append('text').attr('class', 'cap').attr('x', cx).attr('y', r.cap[1]).attr('text-anchor', 'middle').text(lines[1]);
});
</script>
</body>
</html>
